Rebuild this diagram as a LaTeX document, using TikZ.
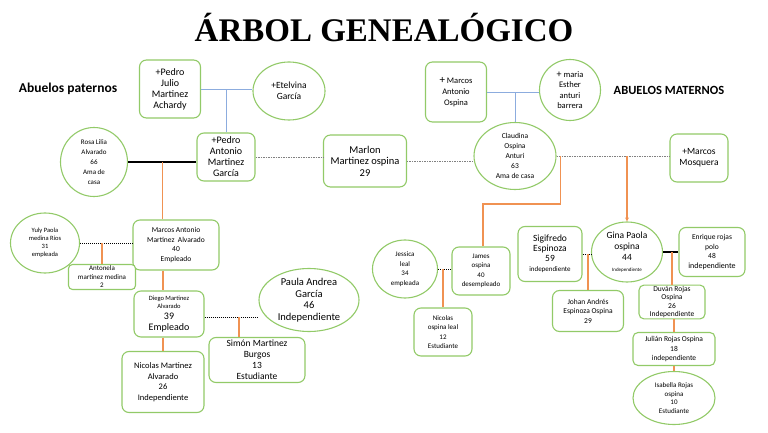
\documentclass[tikz,border=0pt]{standalone}
\usepackage{fontspec}
\setmainfont{Carlito}
\newfontfamily\titlefont{Liberation Serif}
\usepackage{tikz}
\usetikzlibrary{shapes.geometric,calc,arrows.meta}
\definecolor{grn}{RGB}{146,202,104}
\definecolor{org}{RGB}{240,146,82}
\definecolor{blu}{RGB}{140,172,222}
\newcommand{\fz}[2]{\fontsize{#1}{#2}\selectfont}

\begin{document}
\begin{tikzpicture}[x=1pt,y=-1pt,
		box/.style={draw=grn,line width=1.1pt,rounded corners=7pt,fill=white,align=center,inner sep=1pt},
		oval/.style={draw=grn,line width=1.1pt,ellipse,fill=white,align=center,inner sep=0pt},
		orange/.style={draw=org,line width=1.1pt},
		blue/.style={draw=blu,line width=0.9pt},
		couple/.style={line width=2pt},
		dots/.style={densely dotted,line width=1pt},
		link/.style={dash pattern=on 1pt off 1pt on 2pt off 1pt,gray,line width=0.7pt}]
	\useasboundingbox (0,0) rectangle (768,433);
	\node (title) at (384,28) {\titlefont\bfseries\fz{33}{36}ÁRBOL GENEALÓGICO};
	\node (pat) at (68,89) {\bfseries\fz{13.5}{15}Abuelos paternos};
	\node (mat) at (669,90) {\bfseries\fz{12.5}{15}ABUELOS MATERNOS};

	\node[box,minimum width=61,minimum height=58,font=\fz{10}{11}] (pj) at (170,89) {+Pedro\\Julio\\Martinez\\Achardy};
	\node[oval,minimum width=72,minimum height=58,font=\fz{9.5}{11}] (et) at (289,91) {+Etelvina\\García};
	\node[box,minimum width=58,minimum height=48,font=\fz{10}{11}] (pa) at (226,157) {+Pedro\\Antonio\\Martinez\\García};
	\node[oval,minimum width=67,minimum height=69,font=\fz{7}{10}] (rosa) at (94,162) {Rosa Lilia\\Alvarado\\66\\Ama de\\casa};
	\node[box,minimum width=83,minimum height=52,font=\fz{10.5}{11.5}] (mar) at (365,161) {Marlon\\Martinez ospina\\29};
	\node[box,minimum width=61,minimum height=60,font=\fz{8.5}{11}] (mao) at (456,92) {{\fz{11}{11}+} Marcos\\Antonio\\Ospina};
	\node[oval,minimum width=61,minimum height=61,font=\fz{8.5}{10.5}] (mes) at (570,90) {{\fz{10}{10}+} maria\\Esther\\anturi\\barrera};
	\node[oval,minimum width=82,minimum height=67,font=\fz{7.5}{10}] (cla) at (515,156) {Claudina\\Ospina\\Anturi\\63\\Ama de casa};
	\node[box,minimum width=58,minimum height=48,font=\fz{9.5}{11}] (mmo) at (699,158) {+Marcos\\Mosquera};

	\node[box,minimum width=86,minimum height=50,font=\fz{7.5}{9.5}] (maa) at (176,245) {Marcos Antonio\\Martinez\ \ Alvarado\\40\\Empleado};
	\node[oval,minimum width=69,minimum height=60,font=\fz{6.5}{8}] (yul) at (45,243) {Yuly Paola\\medina Ríos\\31\\empleada};
	\node[box,minimum width=67,minimum height=25,rounded corners=4pt,font=\fz{7}{8.5}] (ant) at (102,277) {Antonela\\martinez medina\\2};
	\node[box,minimum width=70,minimum height=46,font=\fz{6.5}{8}] (dgo) at (169,314) {Diego Martinez\\Alvarado\\[3pt]\fz{10}{11}39\\[3pt]\fz{10}{11}Empleado};
	\node[oval,minimum width=100,minimum height=63,font=\fz{10.5}{11.5}] (pau) at (309,300) {Paula Andrea\\García\\46\\Independiente};
	\node[box,minimum width=96,minimum height=45,font=\fz{9.5}{11}] (sim) at (257,360) {Simón Martinez\\Burgos\\13\\Estudiante};
	\node[box,minimum width=82,minimum height=61,font=\fz{8.5}{10.5}] (nma) at (163,382) {Nicolas Martinez\\Alvarado\\26\\Independiente};

	\node[oval,minimum width=65,minimum height=58,font=\fz{7}{9.5}] (jes) at (405,269) {Jessica\\leal\\34\\empleada};
	\node[box,minimum width=58,minimum height=48,font=\fz{7}{9.5}] (jam) at (481,271) {James\\ospina\\40\\desempleado};
	\node[box,minimum width=58,minimum height=48,font=\fz{7}{9.5}] (nos) at (443,332) {Nicolas\\ospina leal\\12\\Estudiante};
	\node[box,minimum width=64,minimum height=55,font=\fz{9.5}{10}] (sig) at (550,254) {Sigifredo\\Espinoza\\59\\\fz{7}{9}independiente};
	\node[box,minimum width=71,minimum height=41,font=\fz{7.5}{9.5}] (joh) at (588,311) {Johan Andrés\\Espinoza Ospina\\29};
	\node[oval,minimum width=71,minimum height=60,font=\fz{9.5}{11}] (gin) at (627,252) {Gina Paola\\ospina\\44\\\fz{5}{7}Independiente};
	\node[box,minimum width=66,minimum height=49,font=\fz{7.5}{9.5}] (enr) at (712,252) {Enrique rojas\\polo\\48\\\fz{8}{9.5}independiente};
	\node[box,minimum width=66,minimum height=33,rounded corners=5pt,font=\fz{7.5}{8.5}] (duv) at (672,302) {Duván Rojas\\Ospina\\26\\Independiente};
	\node[box,minimum width=82,minimum height=33,rounded corners=5pt,font=\fz{7.5}{9.5}] (jul) at (674,349) {Julián Rojas Ospina\\18\\independiente};
	\node[oval,minimum width=82,minimum height=53,font=\fz{7}{8.5}] (isa) at (674,398) {Isabella Rojas\\ospina\\10\\Estudiante};

	\draw[blue] (pj.east) -- (pj.east -| et.west);
	\draw[blue] (pa.north) -- (pa.north |- pj.east);
	\draw[blue] (mao.east) -- (mao.east -| mes.west);
	\draw[blue] (cla.north) -- (cla.north |- mao.east);

	\draw[couple] (rosa.east) -- (rosa.east -| pa.west);
	\coordinate (rp) at ($(rosa.east)!0.5!(rosa.east -| pa.west)$);
	\draw[orange] (rp) -- (rp |- maa.north);
	\draw[link] (pa.east) -- (pa.east -| mar.west);
	\draw[link] (mar.east) -- (mar.east -| cla.west);
	\draw[link] (cla.east) -- (cla.east -| mmo.west);
	\coordinate (cj) at ([xshift=4pt]cla.east);
	\draw[orange] (cj) -- ++(0,48) -| ([xshift=2pt]jam.north);
	\draw[orange,-{Stealth[length=4pt,width=4pt]}] (gin.north |- cla.east) -- (gin.north);

	\draw[dots] (yul.east) -- (yul.east -| maa.west);
	\draw[orange] (ant.north |- yul.east) -- (ant.north);
	\draw[orange] (maa.south -| nma.north) -- (dgo.north -| nma.north);
	\draw[orange] (dgo.south -| nma.north) -- (nma.north);
	\draw[dots] ([yshift=-3pt]dgo.east) -- ([yshift=-3pt]dgo.east -| pau.west);
	\coordinate (dp) at ($([yshift=-3pt]dgo.east)!0.64!([yshift=-3pt]dgo.east -| pau.west)$);
	\draw[orange] (dp) -- (dp |- sim.north);

	\draw[dots] (jes.east) -- (jes.east -| jam.west);
	\draw[orange] (nos.north |- jes.east) -- (nos.north);
	\draw[dots] (sig.east) -- (sig.east -| gin.west);
	\draw[orange] (joh.north |- sig.east) -- (joh.north);
	\draw[couple] (gin.east) -- (gin.east -| enr.west);
	\draw[orange] (duv.north |- gin.east) -- (duv.north);
	\draw[orange] (duv.south -| jul.north) -- (jul.north);
	\draw[orange] (jul.south) -- (isa.north);
\end{tikzpicture}
\end{document}
